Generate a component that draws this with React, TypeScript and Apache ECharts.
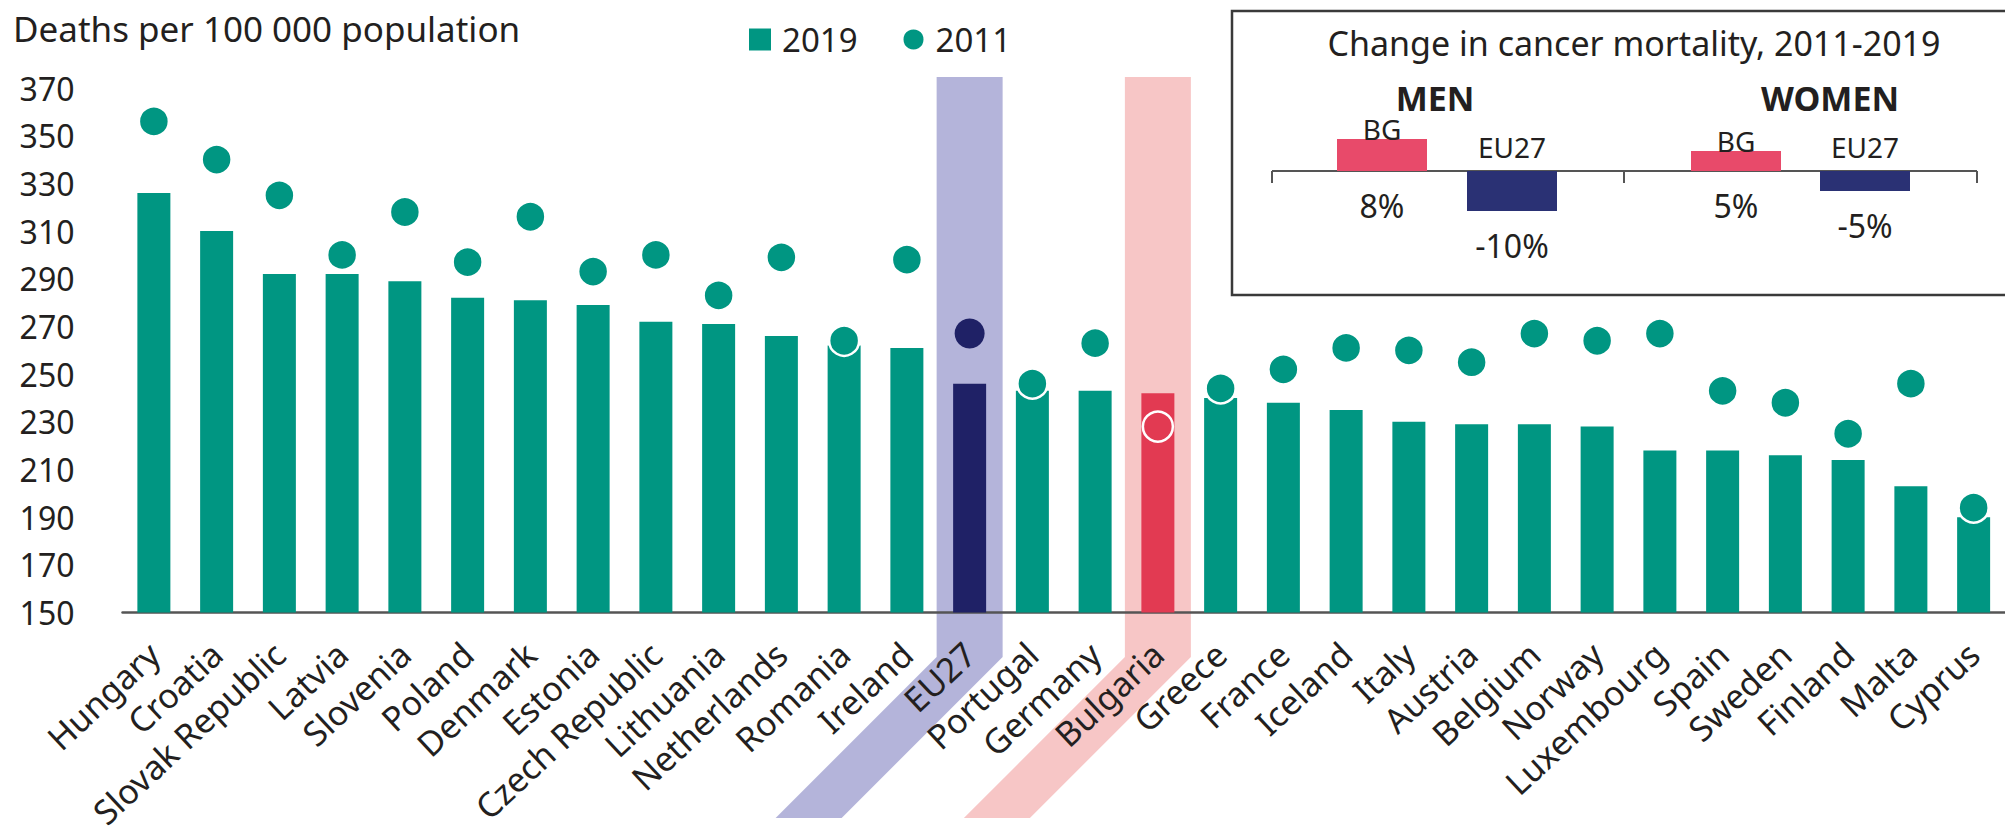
import React, { useEffect, useRef } from "react";
import * as echarts from "echarts";

const categories = [
  "Hungary", "Croatia", "Slovak Republic", "Latvia", "Slovenia", "Poland", "Denmark",
  "Estonia", "Czech Republic", "Lithuania", "Netherlands", "Romania", "Ireland", "EU27",
  "Portugal", "Germany", "Bulgaria", "Greece", "France", "Iceland", "Italy", "Austria",
  "Belgium", "Norway", "Luxembourg", "Spain", "Sweden", "Finland", "Malta", "Cyprus",
];
const deaths2019 = [
  326, 310, 292, 292, 289, 282, 281, 279, 272, 271, 266, 262, 261, 246,
  243, 243, 242, 240, 238, 235, 230, 229, 229, 228, 218, 218, 216, 214, 203, 190,
];
const deaths2011 = [
  356, 340, 325, 300, 318, 297, 316, 293, 300, 283, 299, 264, 298, 267,
  246, 263, 228, 244, 252, 261, 260, 255, 267, 264, 267, 243, 238, 225, 246, 194,
];
const yMin = 150;
const yMax = 370;
const yStep = 20;

const insetGroups = ["BG", "EU27"];
const menChange = [8, -10];
const womenChange = [5, -5];

const TEAL = "#009682";
const NAVY = "#1F2166";
const RED = "#E23A52";
const BAND_BLUE = "#B4B4DA";
const BAND_PINK = "#F7C6C6";
const INSET_PINK = "#E84A6A";
const INSET_NAVY = "#2A3174";
const TXT = "#231F20";
const FONT = "'Noto Sans', 'Open Sans', sans-serif";

export default function App() {
  const ref = useRef<HTMLDivElement>(null);

  useEffect(() => {
    document.body.style.margin = "0";
    const chart = echarts.init(ref.current as HTMLDivElement, null, { renderer: "svg" });

    const barData = deaths2019.map((v, i) => {
      const c = categories[i];
      const color = c === "EU27" ? NAVY : c === "Bulgaria" ? RED : TEAL;
      return { value: v, itemStyle: { color } };
    });
    const dotData = deaths2011.map((v, i) => {
      const c = categories[i];
      if (c === "EU27") return { value: v, itemStyle: { color: NAVY, borderWidth: 0 } };
      if (c === "Bulgaria") return { value: v, itemStyle: { color: RED, borderColor: "#fff", borderWidth: 2.5 } };
      return { value: v };
    });

    const insetItems = (vals: number[]) =>
      vals.map((v, i) => ({
        value: v,
        itemStyle: { color: i === 0 ? INSET_PINK : INSET_NAVY },
        label: { distance: v >= 0 ? -4 : 10 },
      }));
    const insetValueItems = (vals: number[]) => vals.map((v) => ({ value: v }));

    const insetSeries = (vals: number[], idx: number, nm: string) => [
      {
        name: nm,
        type: "bar",
        xAxisIndex: idx,
        yAxisIndex: idx,
        barWidth: 90,
        barGap: "-100%",
        data: insetItems(vals),
        label: {
          show: true,
          position: "top",
          formatter: "{b}",
          fontFamily: FONT,
          fontSize: 28,
          color: TXT,
        },
        z: 3,
      },
      {
        name: nm + "-values",
        type: "bar",
        xAxisIndex: idx,
        yAxisIndex: idx,
        barWidth: 90,
        barGap: "-100%",
        data: insetValueItems(vals),
        itemStyle: { color: "rgba(0,0,0,0)" },
        label: {
          show: true,
          position: "bottom",
          distance: 18,
          formatter: (p: any) => `${p.value}%`,
          fontFamily: FONT,
          fontSize: 32,
          color: TXT,
        },
        z: 3,
      },
    ];

    const option: any = {
      animation: false,
      textStyle: { fontFamily: FONT, color: TXT },
      legend: {
        data: [
          { name: "2019", icon: "rect" },
          { name: "2011", icon: "circle" },
        ],
        left: 744,
        top: 18,
        itemWidth: 22,
        itemHeight: 22,
        itemGap: 44,
        selectedMode: false,
        textStyle: { fontFamily: FONT, fontSize: 33, color: TXT, padding: [0, 0, 0, 6] },
      },
      grid: [
        { left: 122.5, width: 1890, top: 88, height: 528 },
        { left: 1317, width: 260, top: 111, height: 120 },
        { left: 1671.5, width: 258, top: 111, height: 120 },
      ],
      xAxis: [
        {
          type: "category",
          data: categories,
          gridIndex: 0,
          axisLine: { lineStyle: { color: "#555", width: 2.5 } },
          axisTick: { show: false },
          axisLabel: {
            interval: 0,
            rotate: 43,
            margin: 36,
            fontFamily: FONT,
            fontSize: 34,
            color: TXT,
          },
        },
        { type: "category", data: insetGroups, gridIndex: 1, show: false },
        { type: "category", data: insetGroups, gridIndex: 2, show: false },
      ],
      yAxis: [
        {
          type: "value",
          gridIndex: 0,
          min: yMin,
          max: yMax,
          interval: yStep,
          axisLine: { show: false },
          axisTick: { show: false },
          splitLine: { show: false },
          axisLabel: { margin: 48, fontFamily: FONT, fontSize: 32, color: TXT },
        },
        { type: "value", gridIndex: 1, min: -15, max: 15, show: false },
        { type: "value", gridIndex: 2, min: -15, max: 15, show: false },
      ],
      series: [
        {
          name: "2019",
          type: "bar",
          xAxisIndex: 0,
          yAxisIndex: 0,
          barWidth: 33,
          itemStyle: { color: TEAL },
          data: barData,
          z: 2,
        },
        {
          name: "2011",
          type: "scatter",
          xAxisIndex: 0,
          yAxisIndex: 0,
          symbol: "circle",
          symbolSize: 30,
          itemStyle: { color: TEAL, borderColor: "#fff", borderWidth: 2.5, opacity: 1 },
          data: dotData,
          z: 4,
        },
        ...insetSeries(menChange, 1, "men"),
        ...insetSeries(womenChange, 2, "women"),
      ],
    };
    chart.setOption(option);

    const bandTop = 77;
    const bandBend = 657;
    const bandBottom = 818;
    const half = 33;
    const shift = bandBottom - bandBend;
    const band = (name: string, color: string) => {
      const cx = chart.convertToPixel({ xAxisIndex: 0 }, name) as number;
      return {
        type: "polygon",
        z: -1,
        shape: {
          points: [
            [cx - half, bandTop],
            [cx + half, bandTop],
            [cx + half, bandBend],
            [cx + half - shift, bandBottom],
            [cx - half - shift, bandBottom],
            [cx - half, bandBend],
          ],
        },
        style: { fill: color },
        silent: true,
      };
    };
    const zeroY = chart.convertToPixel({ yAxisIndex: 1 }, 0) as number;
    const axL = 1272;
    const axM = 1624;
    const axR = 1977;
    const lineStyle = { stroke: "#555", lineWidth: 2 };

    chart.setOption({
      graphic: {
        elements: [
          band("EU27", BAND_BLUE),
          band("Bulgaria", BAND_PINK),
          {
            type: "text",
            left: 13,
            top: 11,
            style: { text: "Deaths per 100 000 population", fontFamily: FONT, fontSize: 35, fill: TXT },
          },
          {
            type: "rect",
            z: -1,
            shape: { x: 1232, y: 11, width: 800, height: 284 },
            style: { fill: "#fff", stroke: "#3a3a3a", lineWidth: 2.5 },
          },
          {
            type: "text",
            x: 1634,
            y: 43,
            style: {
              text: "Change in cancer mortality, 2011-2019",
              fontFamily: FONT,
              fontSize: 34,
              fill: TXT,
              align: "center",
              verticalAlign: "middle",
            },
          },
          {
            type: "text",
            x: 1435,
            y: 98,
            style: { text: "MEN", fontFamily: FONT, fontSize: 34, fontWeight: "bold", fill: TXT, align: "center", verticalAlign: "middle" },
          },
          {
            type: "text",
            x: 1830,
            y: 98,
            style: { text: "WOMEN", fontFamily: FONT, fontSize: 34, fontWeight: "bold", fill: TXT, align: "center", verticalAlign: "middle" },
          },
          { type: "line", shape: { x1: axL, y1: zeroY, x2: axR, y2: zeroY }, style: lineStyle },
          { type: "line", shape: { x1: axL, y1: zeroY, x2: axL, y2: zeroY + 12 }, style: lineStyle },
          { type: "line", shape: { x1: axM, y1: zeroY, x2: axM, y2: zeroY + 12 }, style: lineStyle },
          { type: "line", shape: { x1: axR, y1: zeroY, x2: axR, y2: zeroY + 12 }, style: lineStyle },
        ],
      },
    });

    return () => chart.dispose();
  }, []);

  return <div ref={ref} style={{ width: 2005, height: 832 }} />;
}
